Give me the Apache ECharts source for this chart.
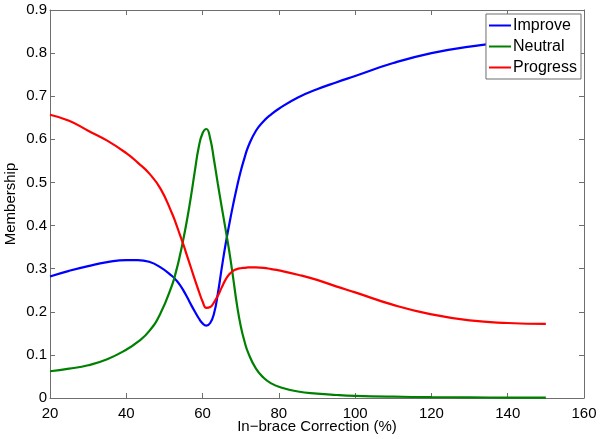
<!DOCTYPE html>
<html>
<head>
<meta charset="utf-8">
<script src="https://cdn.jsdelivr.net/npm/echarts@6/dist/echarts.min.js"></script>
<style>html,body{margin:0;padding:0;background:#fff}#c{width:600px;height:439px}</style>
</head>
<body>
<div id="c"></div>
<script>
const xValues = [20,25,30,35,40,43,46,49,52,53,54,55,56,57,58,59,60,61,62,63,64,65,66,67,68,69,70,71,72,74,76,78,80,85,90,95,100,110,120,130,140,150];
const improve = [0.282,0.295,0.306,0.315,0.320,0.320,0.316,0.303,0.283,0.274,0.263,0.249,0.233,0.216,0.200,0.185,0.173,0.168,0.174,0.196,0.242,0.300,0.355,0.403,0.448,0.489,0.526,0.557,0.584,0.620,0.642,0.658,0.671,0.697,0.716,0.732,0.747,0.777,0.800,0.815,0.825,0.832];
const neutral = [0.062,0.068,0.076,0.090,0.112,0.130,0.155,0.197,0.262,0.292,0.328,0.370,0.417,0.470,0.528,0.582,0.614,0.624,0.602,0.552,0.497,0.444,0.393,0.340,0.280,0.217,0.167,0.131,0.104,0.068,0.047,0.034,0.026,0.015,0.010,0.007,0.005,0.003,0.002,0.0015,0.001,0.001];
const progress = [0.657,0.643,0.620,0.597,0.568,0.546,0.521,0.485,0.428,0.405,0.380,0.355,0.328,0.301,0.274,0.248,0.224,0.209,0.211,0.222,0.237,0.256,0.274,0.287,0.295,0.299,0.301,0.302,0.303,0.303,0.302,0.299,0.296,0.286,0.274,0.259,0.245,0.216,0.194,0.180,0.174,0.172];
const seriesNames = ['Improve','Neutral','Progress'];
const seriesColors = ['#0000ff','#008000','#ff0000'];
const xTicks = {min:20, max:160, interval:20};
const yTicks = {min:0, max:0.9, interval:0.1};

const allData = [improve, neutral, progress];
const font = 'Liberation Sans, Arial, Helvetica, sans-serif';
const axisColor = '#6e6e6e';

const chart = echarts.init(document.getElementById('c'), null, {renderer:'canvas'});
const baseAxis = {
  axisLine:{show:true, onZero:false, lineStyle:{color:axisColor, width:1}},
  axisTick:{show:true, inside:true, length:5, lineStyle:{color:axisColor}},
  splitLine:{show:false}
};
chart.setOption({
  animation:false,
  backgroundColor:'#fff',
  textStyle:{fontFamily:font},
  grid:{left:50, right:16, top:10, bottom:41, containLabel:false, outerBoundsMode:'none'},
  legend:{
    orient:'vertical', right:19, top:14,
    data:seriesNames.map(n=>({name:n, icon:'rect'})),
    itemWidth:22, itemHeight:2, itemGap:4,
    padding:[3,4,3,3],
    borderColor:'#6e6e6e', borderWidth:1, backgroundColor:'#fff',
    textStyle:{fontSize:16, lineHeight:17, color:'#000', fontFamily:font, padding:[0,0,0,-3]}
  },
  xAxis:[
    Object.assign({type:'value', position:'bottom', min:xTicks.min, max:xTicks.max, interval:xTicks.interval,
      name:'In\u2212brace Correction (%)', nameLocation:'middle', nameGap:21, nameMoveOverlap:false,
      nameTextStyle:{fontSize:15, color:'#000', fontFamily:font},
      axisLabel:{fontSize:15, color:'#000', margin:8, fontFamily:font}}, baseAxis),
    Object.assign({type:'value', position:'top', min:xTicks.min, max:xTicks.max, interval:xTicks.interval,
      axisLabel:{show:false}}, baseAxis)
  ],
  yAxis:[
    Object.assign({type:'value', position:'left', min:yTicks.min, max:yTicks.max, interval:yTicks.interval,
      name:'Membership', nameLocation:'middle', nameGap:32, nameMoveOverlap:false,
      nameTextStyle:{fontSize:15, color:'#000', fontFamily:font},
      axisLabel:{fontSize:15, color:'#000', margin:3, fontFamily:font,
        formatter:v=>String(Math.round(v*10)/10)}}, baseAxis),
    Object.assign({type:'value', position:'right', min:yTicks.min, max:yTicks.max, interval:yTicks.interval,
      axisLabel:{show:false}}, baseAxis)
  ],
  series: seriesNames.map((n,i)=>({
    name:n, type:'line', smooth:0.5, symbol:'none', showSymbol:false,
    color:seriesColors[i],
    lineStyle:{color:seriesColors[i], width:2.2},
    itemStyle:{color:seriesColors[i]},
    data:xValues.map((x,j)=>[x, allData[i][j]])
  }))
});
</script>
</body>
</html>
